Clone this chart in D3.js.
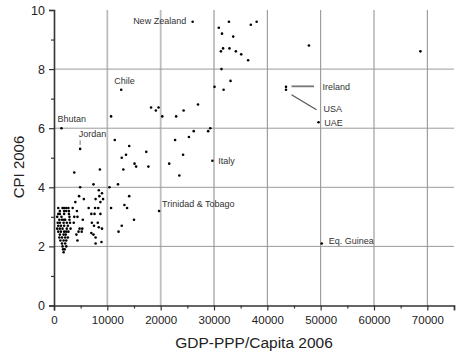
<!DOCTYPE html>
<html>
<head>
<meta charset="utf-8">
<script src="https://cdn.jsdelivr.net/npm/d3@7"></script>
<style>
  html, body { margin: 0; padding: 0; background: #fff; }
  svg { display: block; font-family: "Liberation Sans", Arial, sans-serif; }
</style>
</head>
<body>
<svg id="chart" width="470" height="358"></svg>
<script>
// ---- data ----
const xTicks = [0, 10000, 20000, 30000, 40000, 50000, 60000, 70000];
const yTicks = [0, 2, 4, 6, 8, 10];

// labelled countries
const labelNames = ["New Zealand", "Chile", "Bhutan", "Jordan", "Italy", "Trinidad & Tobago", "Ireland", "USA", "UAE", "Eq. Guinea"];
const labelGdp   = [26000, 12600, 1400, 4900, 29700, 19700, 43500, 43500, 49600, 50200];
const labelCpi   = [9.6, 7.3, 6.0, 5.3, 4.9, 3.2, 7.4, 7.3, 6.2, 2.1];

// other countries: [GDP-PPP per capita, CPI]
const highIncome = [
  [68700, 8.6], [47800, 8.8], [32800, 9.6], [38000, 9.6], [36900, 9.5], [30900, 9.4],
  [31500, 9.2], [33600, 9.1], [31700, 8.7], [31300, 8.6], [32900, 8.7], [34100, 8.6],
  [35100, 8.5], [36400, 8.3], [31400, 8.0], [33100, 7.6], [30100, 7.4], [31800, 7.3],
  [27000, 6.8], [18200, 6.7], [19100, 6.6], [19600, 6.7], [20300, 6.4], [22900, 6.4],
  [24300, 6.6], [29300, 6.0], [28900, 5.9], [26200, 5.9], [25300, 5.7], [22700, 5.6],
  [24200, 5.1], [21600, 4.8], [23500, 4.4]
];
const middleIncome = [
  [10700, 6.4], [11400, 5.6], [14100, 5.4], [17300, 5.2], [13500, 5.1], [12700, 5.0],
  [15100, 4.8], [15400, 4.7], [17700, 4.7], [13000, 4.6], [10400, 4.0], [12000, 4.1],
  [14100, 3.7], [13200, 3.4], [13700, 3.3], [10700, 3.3], [15000, 2.9], [12700, 2.7],
  [12100, 2.5],
  [3800, 4.5], [8600, 4.6], [4900, 4.0], [7400, 4.1], [8400, 3.9], [9000, 3.8],
  [4700, 3.7], [5600, 3.6], [7800, 3.6], [8500, 3.7], [9200, 3.6], [4000, 3.5],
  [8700, 3.5], [3500, 3.3], [6500, 3.3], [7700, 3.3], [8300, 3.3], [4300, 3.2],
  [7000, 3.1], [7600, 3.1], [8700, 3.1], [3800, 3.0], [4400, 3.0], [5400, 2.9],
  [3700, 2.8], [7100, 2.8], [8200, 2.8], [7500, 2.7], [8400, 2.65], [4800, 2.6],
  [5300, 2.6], [9000, 2.6], [4600, 2.5], [5200, 2.5], [7000, 2.45], [4200, 2.4],
  [7400, 2.4], [7800, 2.3], [4400, 2.2], [7800, 2.1], [8900, 2.15]
];
const lowIncome = [
  [800, 3.3], [1600, 3.3], [1900, 3.3], [2300, 3.3], [2700, 3.3],
  [1100, 3.2], [1900, 3.2], [2300, 3.2], [2800, 3.2],
  [800, 3.1], [1100, 3.1], [1900, 3.1], [2800, 3.1],
  [600, 3.0], [1400, 3.0], [2900, 3.0],
  [1000, 2.9], [1500, 2.9], [1900, 2.9], [2100, 2.9], [2900, 2.9],
  [700, 2.8], [1100, 2.8], [1800, 2.8], [2400, 2.8], [3000, 2.8],
  [800, 2.7], [1300, 2.7], [1900, 2.7], [2600, 2.7],
  [600, 2.6], [1100, 2.6], [1600, 2.6], [2400, 2.6], [3100, 2.6],
  [800, 2.5], [1300, 2.5], [1900, 2.5], [2300, 2.5], [2700, 2.5],
  [1100, 2.4], [1800, 2.4], [2200, 2.4],
  [1000, 2.3], [1500, 2.3], [2100, 2.3], [2600, 2.3],
  [1200, 2.2], [1800, 2.2], [2300, 2.2],
  [1500, 2.1], [2100, 2.1],
  [1600, 2.0], [2300, 2.0],
  [1700, 1.9], [2000, 1.9],
  [1800, 1.8]
];

// ---- layout / style ----
const svg = d3.select("#chart");
const x = d3.scaleLinear().domain([0, 75000]).range([54, 454]);
const y = d3.scaleLinear().domain([0, 10]).range([305.5, 10]);

// label offsets (pixels, relative to the point) — presentation only
const labelStyle = {
  "New Zealand": {dx: -6.5, dy: 2, anchor: "end"},
  "Chile": {dx: -7, dy: -6},
  "Bhutan": {dx: -4, dy: -6.5},
  "Jordan": {dx: -1.5, dy: -11.5},
  "Italy": {dx: 5.8, dy: 2.8},
  "Trinidad & Tobago": {dx: 3, dy: -4},
  "Ireland": {dx: 36.5, dy: 3.5},
  "USA": {dx: 37.5, dy: 22.5},
  "UAE": {dx: 5.8, dy: 3.6},
  "Eq. Guinea": {dx: 7, dy: 0.3}
};

// grid
const gGrid = svg.append("g");
xTicks.filter(d => d > 0).forEach(d => {
  gGrid.append("line")
    .attr("x1", x(d)).attr("x2", x(d))
    .attr("y1", y(10)).attr("y2", y(0))
    .attr("stroke", d <= 30000 ? "#bdbdbd" : "#8c8c8c")
    .attr("stroke-width", d <= 30000 ? 1.8 : 1);
});
yTicks.filter(d => d > 0 && d < 10).forEach(d => {
  gGrid.append("line")
    .attr("x1", x(0)).attr("x2", x(75000))
    .attr("y1", y(d)).attr("y2", y(d))
    .attr("stroke", "#9a9a9a").attr("stroke-width", 1);
});

// axes
const xAxis = d3.axisBottom(x).tickValues(xTicks).tickFormat(d3.format("d")).tickSize(5).tickPadding(5);
const gx = svg.append("g").attr("transform", `translate(0,${y(0)})`).call(xAxis);
gx.select(".domain").attr("stroke", "#333").attr("stroke-width", 1.6);
gx.selectAll(".tick line").attr("stroke", "#333").attr("stroke-width", 1.2);
gx.selectAll(".tick text").attr("font-size", 11.5).attr("fill", "#222")
  .attr("font-family", "Liberation Sans, Arial, sans-serif");
const xMinor = d3.axisBottom(x).tickValues(d3.range(5000, 75001, 10000)).tickSize(3).tickFormat("");
const gxm = svg.append("g").attr("transform", `translate(0,${y(0)})`).call(xMinor);
gxm.select(".domain").remove();
gxm.selectAll(".tick line").attr("stroke", "#333").attr("stroke-width", 1.2);

const yAxis = d3.axisLeft(y).tickValues(yTicks).tickSize(5).tickPadding(4);
const gy = svg.append("g").attr("transform", `translate(${x(0)},0)`).call(yAxis);
gy.select(".domain").attr("stroke", "#333").attr("stroke-width", 1.6);
gy.selectAll(".tick line").attr("stroke", "#333").attr("stroke-width", 1.2);
gy.selectAll(".tick text").attr("font-size", 12.5).attr("fill", "#222")
  .attr("font-family", "Liberation Sans, Arial, sans-serif");
const yMinor = d3.axisLeft(y).tickValues([1, 3, 5, 7, 9]).tickSize(3).tickFormat("");
const gym = svg.append("g").attr("transform", `translate(${x(0)},0)`).call(yMinor);
gym.select(".domain").remove();
gym.selectAll(".tick line").attr("stroke", "#333").attr("stroke-width", 1.2);

// axis titles
svg.append("text").attr("x", 254).attr("y", 348)
  .attr("text-anchor", "middle").attr("font-size", 15.5).attr("fill", "#222")
  .text("GDP-PPP/Capita 2006");
svg.append("text").attr("transform", "translate(24,167) rotate(-90)")
  .attr("text-anchor", "middle").attr("font-size", 15).attr("fill", "#222")
  .text("CPI 2006");

// points
const allPoints = highIncome.concat(middleIncome, lowIncome,
  labelGdp.map((g, i) => [g, labelCpi[i]]));
svg.append("g").selectAll("circle").data(allPoints).join("circle")
  .attr("cx", d => x(d[0])).attr("cy", d => y(d[1]))
  .attr("r", 1.3).attr("fill", "#000");

// labels
const gLab = svg.append("g");
labelNames.forEach((name, i) => {
  const s = labelStyle[name];
  const px = x(labelGdp[i]), py = y(labelCpi[i]);
  gLab.append("text").attr("x", px + s.dx).attr("y", py + s.dy)
    .attr("text-anchor", s.anchor || "start")
    .attr("font-size", 9).attr("fill", "#333").text(name);
});

// leader lines
const iIre = labelNames.indexOf("Ireland"), iUsa = labelNames.indexOf("USA"), iJor = labelNames.indexOf("Jordan");
gLab.append("line")
  .attr("x1", x(labelGdp[iIre]) + 5.5).attr("x2", x(labelGdp[iIre]) + 28)
  .attr("y1", y(labelCpi[iIre]) - 0.5).attr("y2", y(labelCpi[iIre]) - 0.5)
  .attr("stroke", "#777").attr("stroke-width", 1.8);
gLab.append("line")
  .attr("x1", x(labelGdp[iUsa]) + 5.5).attr("y1", y(labelCpi[iUsa]) + 5)
  .attr("x2", x(labelGdp[iUsa]) + 30.5).attr("y2", y(labelCpi[iUsa]) + 20)
  .attr("stroke", "#555").attr("stroke-width", 1.2);
gLab.append("line")
  .attr("x1", x(labelGdp[iJor])).attr("x2", x(labelGdp[iJor]))
  .attr("y1", y(labelCpi[iJor]) - 8.5).attr("y2", y(labelCpi[iJor]) - 4)
  .attr("stroke", "#777").attr("stroke-width", 1);
</script>
</body>
</html>
